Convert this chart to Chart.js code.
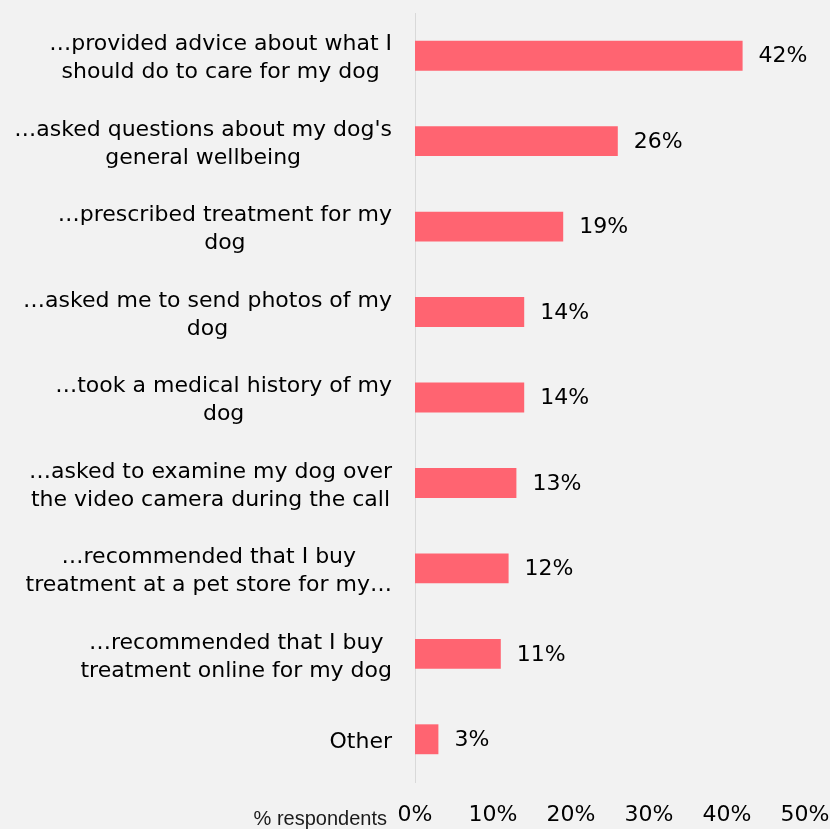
<!DOCTYPE html>
<html>
<head>
<meta charset="utf-8">
<script src="https://cdn.jsdelivr.net/npm/chart.js@4.4.1/dist/chart.umd.min.js"></script>
<style>
  body { margin: 0; background: #f2f2f2; }
  canvas { display: block; }
</style>
</head>
<body>
<canvas id="grafico" width="830" height="829"></canvas>
<script>
// what the vet did during the video call
const categorias = [
    ['…provided advice about what I', 'should do to care for my dog'],
    ['…asked questions about my dog\'s', 'general wellbeing'],
    ['…prescribed treatment for my', 'dog'],
    ['…asked me to send photos of my', 'dog'],
    ['…took a medical history of my', 'dog'],
    ['…asked to examine my dog over', 'the video camera during the call'],
    ['…recommended that I buy', 'treatment at a pet store for my…'],
    ['…recommended that I buy', 'treatment online for my dog'],
    ['Other']
];
const valores = [42, 26, 19, 14, 14, 13, 12, 11, 3];
const ticksX = [0, 10, 20, 30, 40, 50];
const tituloX = '% respondents';

const fonte = '"DejaVu Sans", sans-serif';

// fundo + rotulos das categorias, valores e titulo do eixo
const rotulos = {
    id: 'rotulos',
    beforeDraw(chart) {
        const ctx = chart.ctx;
        ctx.save();
        ctx.fillStyle = '#f2f2f2';
        ctx.fillRect(0, 0, chart.width, chart.height);
        ctx.restore();
    },
    afterDraw(chart) {
        const ctx = chart.ctx;
        const y = chart.scales.y;
        const x = chart.scales.x;
        const area = chart.chartArea;
        ctx.save();
        ctx.fillStyle = '#000';
        ctx.font = '22px ' + fonte;
        ctx.textBaseline = 'middle';

        // categorias: linhas centradas, bloco alinhado a direita
        const direita = area.left - 23;
        const alturaLinha = 28;
        categorias.forEach(function(linhas, i){
            const cy = y.getPixelForValue(i);
            const larg = Math.max.apply(null, linhas.map(l => ctx.measureText(l).width));
            const cx = direita - larg / 2;
            ctx.textAlign = 'center';
            linhas.forEach(function(l, j){
                ctx.fillText(l, cx, cy + (j - (linhas.length - 1) / 2) * alturaLinha + 3);
            });
        });

        // valores no fim das barras
        ctx.textAlign = 'left';
        chart.getDatasetMeta(0).data.forEach(function(barra, i){
            ctx.fillText(valores[i] + '%', barra.x + 16, barra.y + 1);
        });

        // titulo do eixo x, ao lado do 0%
        ctx.font = '20px "Liberation Sans", Arial, sans-serif';
        ctx.textAlign = 'right';
        ctx.fillStyle = '#1a1a1a';
        ctx.fillText(tituloX, x.getPixelForValue(0) - 28, x.top + 37);
        ctx.restore();
    }
};

const ctx = document.getElementById('grafico');

new Chart(ctx, {
    type: 'bar',
    data: {
        labels: categorias,
        datasets: [{
            label: tituloX,
            data: valores,
            backgroundColor: '#ff6471',
            borderWidth: 0,
            barPercentage: 0.35,
            categoryPercentage: 1
        }]
    },
    options: {
        indexAxis: 'y',
        responsive: false,
        animation: false,
        devicePixelRatio: 1,
        layout: {
            padding: { left: 415, top: 13, right: 0, bottom: 0 }
        },
        plugins: {
            legend: { display: false },
            tooltip: { enabled: false }
        },
        scales: {
            x: {
                min: 0,
                max: 50,
                afterBuildTicks: function(axis){
                    axis.ticks = ticksX.map(v => ({ value: v }));
                },
                afterFit: function(axis){
                    axis.height = 47;
                    axis.paddingRight = 25;
                    axis.paddingLeft = 0;
                },
                ticks: {
                    callback: v => v + '%',
                    color: '#000',
                    font: { family: fonte, size: 22 },
                    padding: 20,
                    maxRotation: 0
                },
                grid: { display: false, drawTicks: false },
                border: { display: false }
            },
            y: {
                ticks: { display: false },
                grid: { display: false, drawTicks: false },
                border: { display: true, color: '#d9d9d9', width: 1 }
            }
        }
    },
    plugins: [rotulos]
});
</script>
</body>
</html>
